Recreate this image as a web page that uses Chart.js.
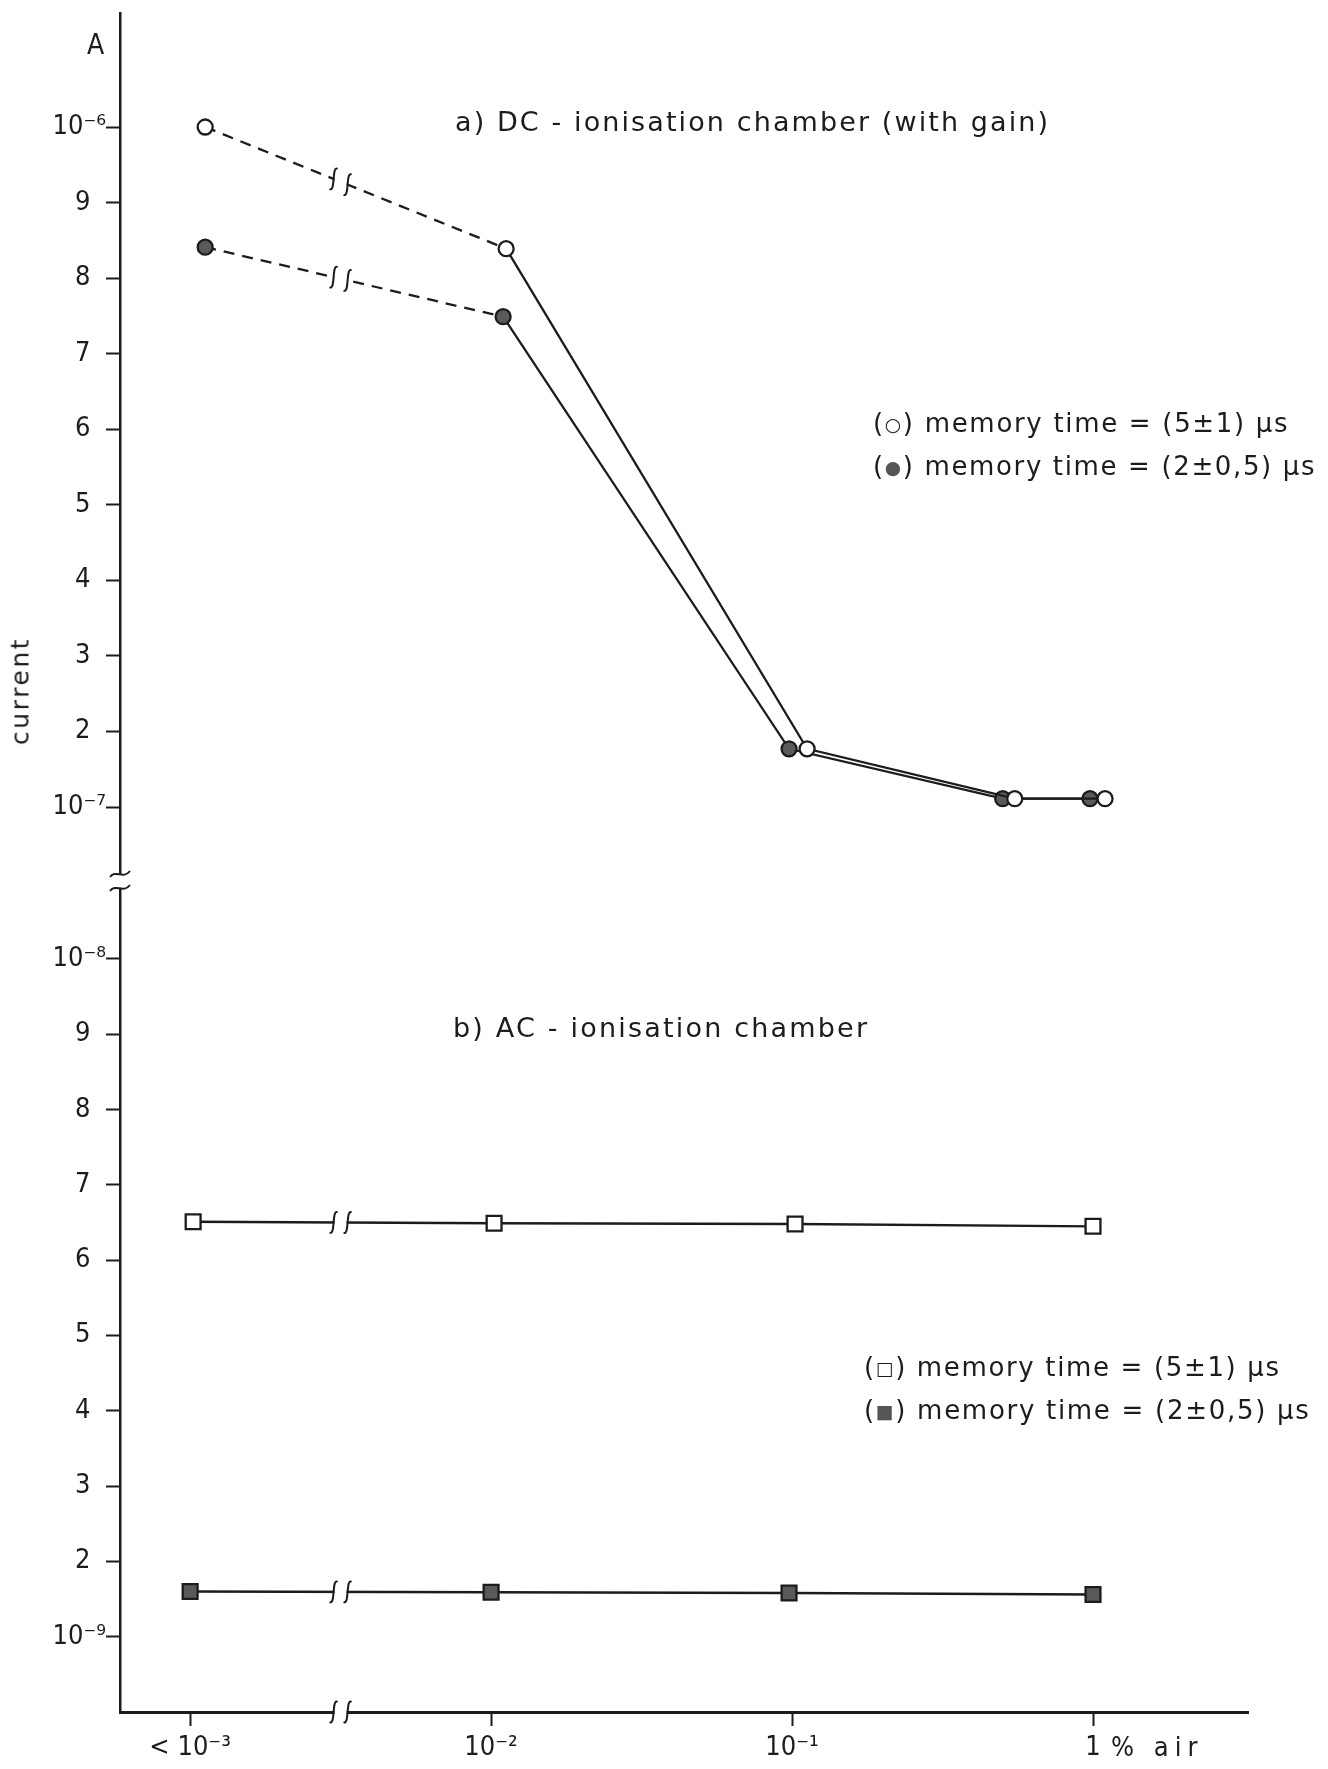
<!DOCTYPE html>
<html>
<head>
<meta charset="utf-8">
<script src="https://cdn.jsdelivr.net/npm/chart.js@4.4.1/dist/chart.umd.min.js"></script>
<style>
  html, body { margin: 0; padding: 0; background: #fff; }
  #wrap { position: relative; width: 1328px; height: 1769px; overflow: hidden; }
  canvas { position: absolute; left: 0; top: 0; }
  .t { position: absolute; white-space: nowrap; font-family: "DejaVu Sans", sans-serif;
       color: #1c1c1c; line-height: 1; transform: translateY(-50%); }
  .c { font-family: "DejaVu Sans Condensed", "DejaVu Sans", sans-serif; }
  .mk { font-size: 0.72em; position: relative; top: -0.08em; }
  .grey { color: #555; }
</style>
</head>
<body>
<div id="wrap">
  <canvas id="chart" width="1328" height="1769" style="width:1328px;height:1769px"></canvas>

  <div class="t fit c" data-w="20" style="left:87px;top:45px;font-size:28px">A</div>
  <div class="t fit" id="ylab" data-w="108" style="left:20px;top:691px;font-size:25px;transform:translate(-50%,-50%) rotate(-90deg)">current</div>

  <div class="t fit" data-w="595" style="left:455px;top:121px;font-size:27px">a) DC - ionisation chamber (with gain)</div>
  <div class="t fit" data-w="416" style="left:873px;top:423px;font-size:26px">(<span class="mk">○</span>) memory time = (5±1) μs</div>
  <div class="t fit" data-w="443" style="left:873px;top:466px;font-size:26px">(<span class="mk grey">●</span>) memory time = (2±0,5) μs</div>

  <div class="t fit" data-w="416" style="left:453px;top:1027px;font-size:27px">b) AC - ionisation chamber</div>
  <div class="t fit" data-w="417" style="left:864px;top:1367px;font-size:26px">(<span class="mk">□</span>) memory time = (5±1) μs</div>
  <div class="t fit" data-w="447" style="left:864px;top:1410px;font-size:26px">(<span class="mk grey">■</span>) memory time = (2±0,5) μs</div>

  <div class="t fit c" data-w="92" style="left:1111px;top:1746px;font-size:27px">% air</div>
</div>

<script>
// x positions are decades of air content (log10 of %), "<10^-3" sits at -3
const xTicks = [-3, -2, -1, 0];
const xLabels = ['< 10⁻³', '10⁻²', '10⁻¹', '1'];

// a) DC chamber, current in units of 1e-7 A
const yTopTicks = [1, 2, 3, 4, 5, 6, 7, 8, 9, 10];
const yTopLabels = ['10⁻⁷', '2', '3', '4', '5', '6', '7', '8', '9', '10⁻⁶'];
const dcOpenX = [-2.95, -1.95, -0.95, -0.26, 0.04];
const dcOpen = [10.0, 8.39, 1.77, 1.11, 1.11];
const dcFilledX = [-2.95, -1.96, -1.01, -0.30, -0.01];
const dcFilled = [8.41, 7.49, 1.77, 1.11, 1.11];

// b) AC chamber, current in units of 1e-9 A
const yBotTicks = [1, 2, 3, 4, 5, 6, 7, 8, 9, 10];
const yBotLabels = ['10⁻⁹', '2', '3', '4', '5', '6', '7', '8', '9', '10⁻⁸'];
const acOpenX = [-2.99, -1.99, -0.99, 0.0];
const acOpen = [6.51, 6.49, 6.48, 6.45];
const acFilledX = [-3.0, -2.0, -1.01, 0.0];
const acFilled = [1.60, 1.59, 1.58, 1.56];

// where the "//" break sits on the x axis
const breakAt = -2.5;

const INK = '#1c1c1c';
const FONT = '"DejaVu Sans Condensed", "DejaVu Sans", sans-serif';

function pts(xs, ys) { return xs.map((x, i) => ({ x: x, y: ys[i] })); }

function lineSet(label, xs, ys, axis, style, filled, dashedFirst) {
  return {
    label: label,
    data: pts(xs, ys),
    yAxisID: axis,
    borderColor: INK,
    borderWidth: 2.3,
    pointStyle: style,
    pointRadius: style === 'rect' ? 10.5 : 7.5,
    pointBorderWidth: 2.3,
    pointBorderColor: INK,
    pointBackgroundColor: filled ? '#5a5a5a' : '#fff',
    tension: 0,
    fill: false,
    segment: dashedFirst ? { borderDash: c => c.p0DataIndex === 0 ? [11, 8] : undefined } : undefined
  };
}

// S-shaped break mark pair drawn across a line
function drawBreak(ctx, x, y, slope, lw) {
  ctx.save();
  ctx.fillStyle = '#fff';
  ctx.beginPath();
  ctx.moveTo(x - 6, y + slope * -6 - lw);
  ctx.lineTo(x + 6, y + slope * 6 - lw);
  ctx.lineTo(x + 6, y + slope * 6 + lw);
  ctx.lineTo(x - 6, y + slope * -6 + lw);
  ctx.closePath();
  ctx.fill();
  ctx.strokeStyle = INK;
  ctx.lineWidth = 2;
  [-7, 7].forEach(dx => {
    const cx = x + dx, cy = y + slope * dx, h = 22;
    ctx.beginPath();
    ctx.moveTo(cx + 4, cy - h / 2 + 1);
    ctx.bezierCurveTo(cx - 2, cy - h / 2 - 3, cx + 2, cy + h / 2 + 3, cx - 4, cy + h / 2 - 1);
    ctx.stroke();
  });
  ctx.restore();
}

const breakPlugin = {
  id: 'breaks',
  afterDraw(chart) {
    const ctx = chart.ctx;
    const xs = chart.scales.x;
    const bx = xs.getPixelForValue(breakAt);
    chart.data.datasets.forEach((ds, i) => {
      const p = chart.getDatasetMeta(i).data;
      const slope = (p[1].y - p[0].y) / (p[1].x - p[0].x);
      drawBreak(ctx, bx, p[0].y + slope * (bx - p[0].x), slope, 4);
    });
    drawBreak(ctx, bx, xs.top, 0, 4);

    // broken y axis between the two panels
    const ax = chart.chartArea.left;
    const split = chart.scales.yTop.bottom;
    ctx.save();
    ctx.fillStyle = '#fff';
    ctx.fillRect(ax - 5, split - 7, 10, 14);
    ctx.strokeStyle = INK;
    ctx.lineWidth = 2;
    [split - 7, split + 7].forEach(y => {
      ctx.beginPath();
      ctx.moveTo(ax - 10, y + 3);
      ctx.bezierCurveTo(ax - 4, y - 5, ax + 3, y + 6, ax + 10, y - 3);
      ctx.stroke();
    });
    ctx.restore();
  }
};

function yScale(ticks, labels, min, max, weight) {
  return {
    type: 'linear',
    position: 'left',
    stack: 'current',
    stackWeight: weight,
    min: min,
    max: max,
    afterBuildTicks: s => { s.ticks = ticks.map(v => ({ value: v })); },
    afterFit: s => { s.width = 120; s.paddingTop = 0; s.paddingBottom = 0; },
    border: { display: true, color: INK, width: 2.5 },
    grid: { drawOnChartArea: false, drawTicks: true, tickLength: 14, tickWidth: 2, tickColor: INK },
    ticks: {
      color: INK,
      padding: 0,
      font: { family: FONT, size: 27 },
      callback: v => {
        const l = labels[ticks.indexOf(v)];
        return l.length === 1 ? l + '\u2007' : l;
      }
    }
  };
}

new Chart(document.getElementById('chart'), {
  type: 'line',
  data: {
    datasets: [
      lineSet('DC open', dcOpenX, dcOpen, 'yTop', 'circle', false, true),
      lineSet('DC filled', dcFilledX, dcFilled, 'yTop', 'circle', true, true),
      lineSet('AC open', acOpenX, acOpen, 'yBot', 'rect', false, false),
      lineSet('AC filled', acFilledX, acFilled, 'yBot', 'rect', true, false)
    ]
  },
  options: {
    responsive: false,
    animation: false,
    events: [],
    layout: { padding: { top: 13, left: 0, right: 80, bottom: 0 } },
    plugins: { legend: { display: false }, tooltip: { enabled: false } },
    scales: {
      // the stack is laid out bottom-up, so the lower panel comes first
      yBot: yScale(yBotTicks, yBotLabels, 0, 11.035, 831),
      yTop: yScale(yTopTicks, yTopLabels, 0.021, 11.509, 868),
      x: {
        type: 'linear',
        position: 'bottom',
        min: -3.233,
        max: 0.515,
        afterBuildTicks: s => { s.ticks = xTicks.map(v => ({ value: v })); },
        afterFit: s => { s.height = 57; s.paddingLeft = 0; s.paddingRight = 0; },
        border: { display: true, color: INK, width: 3 },
        grid: { drawOnChartArea: false, drawTicks: true, tickLength: 14, tickWidth: 2, tickColor: INK },
        ticks: {
          color: INK,
          padding: 6,
          maxRotation: 0,
          autoSkip: false,
          font: { family: FONT, size: 27 },
          callback: v => xLabels[xTicks.indexOf(v)]
        }
      }
    }
  },
  plugins: [breakPlugin]
});

// stretch each text to the width it has in the figure
document.querySelectorAll('.fit').forEach(el => {
  const target = +el.dataset.w;
  const n = el.textContent.length;
  const w = el.offsetWidth;
  el.style.letterSpacing = ((target - w) / n) + 'px';
});
</script>
</body>
</html>
